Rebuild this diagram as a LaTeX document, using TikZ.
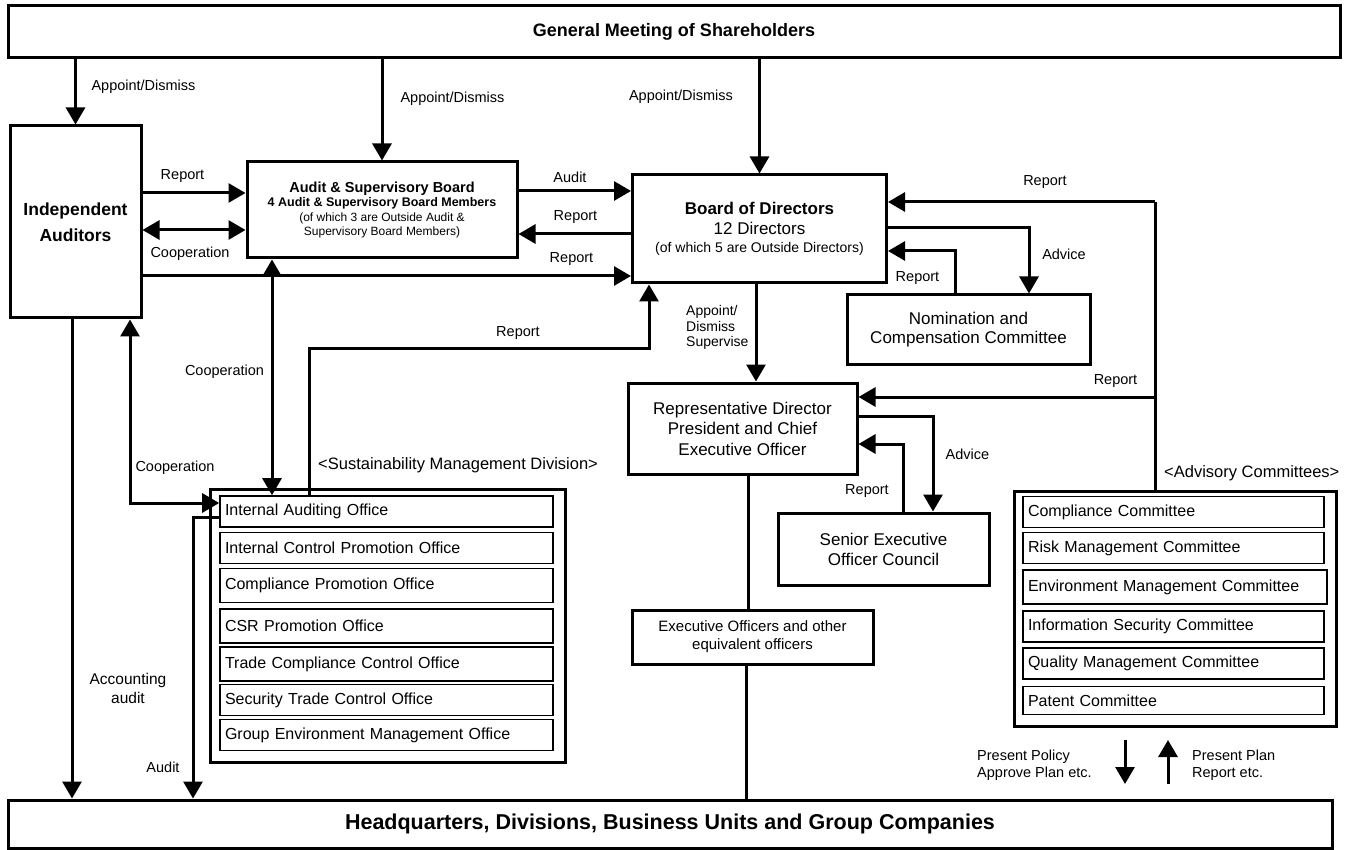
\documentclass[tikz,border=0pt]{standalone}
\usepackage{fontspec}
\setmainfont{Liberation Sans}
\usetikzlibrary{arrows.meta}
\newcommand\myfs[2]{\fontsize{#1}{#2}\selectfont}
\begin{document}
\begin{tikzpicture}[x=1pt,y=-1pt,
  box/.style={draw, line width=3pt, inner sep=0pt, align=center},
  ibox/.style={draw, line width=1.6pt, inner xsep=5pt, inner ysep=0pt, minimum height=31pt, text width=323pt, align=left, font=\myfs{16}{18}},
  abox/.style={ibox, text width=291pt},
  lbl/.style={inner sep=0pt, font=\myfs{14.5}{16}},
  conn/.style={line width=3pt},
  myarr/.style={line width=3pt, -{Triangle[length=17pt,width=19pt]}},
  mydarr/.style={line width=3pt, {Triangle[length=17pt,width=19pt]}-{Triangle[length=17pt,width=19pt]}}
]
\useasboundingbox (0,0) rectangle (1347,850);

% main boxes
\node[box, minimum width=1332pt, minimum height=52pt, font=\myfs{18}{20}\bfseries] (gm) at (674,32) {General Meeting of Shareholders};
\node[box, minimum width=131pt, minimum height=192pt, font=\myfs{17.5}{26}\bfseries] (ia) at (75.5,222) {Independent\\Auditors};
\node[box, minimum width=270pt, minimum height=96pt, font=\myfs{12}{14.5}] (asb) at (382,210)
  {{\myfs{14.5}{16}\bfseries Audit \& Supervisory Board}\\{\myfs{12.5}{14}\bfseries 4 Audit \& Supervisory Board Members}\\(of which 3 are Outside Audit \&\\Supervisory Board Members)};
\node[box, minimum width=254pt, minimum height=108pt, font=\myfs{14}{18.5}] (bod) at (759.5,229)
  {{\myfs{17}{19}\bfseries Board of Directors}\\[1.5pt]{\myfs{17}{19}12 Directors}\\(of which 5 are Outside Directors)};
\node[box, minimum width=243pt, minimum height=69pt, font=\myfs{17}{18.5}] (nom) at (968.5,329.5) {Nomination and\\Compensation Committee};
\node[box, minimum width=229pt, minimum height=91pt, font=\myfs{17}{20.5}] (rep) at (742.5,428.5) {Representative Director\\President and Chief\\Executive Officer};
\node[box, minimum width=211pt, minimum height=72pt, font=\myfs{17}{20}] (sen) at (883.5,549) {Senior Executive\\Officer Council};
\node[box, minimum width=241pt, minimum height=54pt, font=\myfs{15}{18}] (exo) at (752.5,637) {Executive Officers and other\\equivalent officers};
\node[box, minimum width=1324pt, minimum height=48pt, font=\myfs{21.5}{24}\bfseries] (hq) at (670,824) {Headquarters, Divisions, Business Units and Group Companies};

% Sustainability Management Division
\node[box, minimum width=355pt, minimum height=273pt] (smd) at (387.5,625.5) {};
\node[ibox] (iao) at (386.5,511.5) {Internal Auditing Office};
\node[ibox] (icp) at (386.5,548) {Internal Control Promotion Office};
\node[ibox, minimum height=34pt] (cpo) at (386.5,585.5) {Compliance Promotion Office};
\node[ibox, minimum height=34pt] (csr) at (386.5,626) {CSR Promotion Office};
\node[ibox, minimum height=34pt] (tcc) at (386.5,664) {Trade Compliance Control Office};
\node[ibox] (stc) at (386.5,700) {Security Trade Control Office};
\node[ibox] (gem) at (386.5,735) {Group Environment Management Office};
\node[lbl, anchor=west, font=\myfs{16.5}{18}] (smdl) at (318,465) {<Sustainability Management Division>};

% Advisory Committees
\node[box, minimum width=322pt, minimum height=235pt] (adv) at (1175,608.5) {};
\node[abox] (cc) at (1173.5,512) {Compliance Committee};
\node[abox] (rmc) at (1173.5,548) {Risk Management Committee};
\node[abox, minimum height=34pt, text width=294pt] (emc) at (1175,587) {Environment Management Committee};
\node[abox] (isc) at (1173.5,626.5) {Information Security Committee};
\node[abox] (qmc) at (1173.5,663.5) {Quality Management Committee};
\node[abox, minimum height=28pt] (pc) at (1173.5,700.5) {Patent Committee};
\node[lbl, anchor=west, font=\myfs{16.5}{18}] (advl) at (1164,473) {<Advisory Committees>};

% connectors from GM
\draw[myarr] (ia.north |- gm.south) -- (ia.north);
\draw[myarr] (asb.north |- gm.south) -- (asb.north);
\draw[myarr] (bod.north |- gm.south) -- (bod.north);
\node[lbl] (l1) at (143.5,87) {Appoint/Dismiss};
\node[lbl] (l2) at (452.5,99) {Appoint/Dismiss};
\node[lbl] (l3) at (681,97) {Appoint/Dismiss};

% Independent auditors <-> audit board / board
\draw[myarr] (ia.east |- 0,193) -- (asb.west |- 0,193);
\draw[mydarr] (ia.east |- 0,230) -- (asb.west |- 0,230);
\draw[myarr] (ia.east |- 0,276) -- (bod.west |- 0,276);
\node[lbl] (l4) at (182.5,176) {Report};
\node[lbl] (l5) at (190,254) {Cooperation};
\node[lbl] (l6) at (571.5,259) {Report};

% audit board <-> board
\draw[myarr] (asb.east |- 0,191) -- (bod.west |- 0,191);
\draw[myarr] (bod.west |- 0,234) -- (asb.east |- 0,234);
\node[lbl] (l7) at (570,177) {Audit};
\node[lbl] (l8) at (575.5,217) {Report};

% cooperation with internal auditing office
\draw[mydarr] (asb.south -| 272,0) -- (iao.north -| 272,0);
\node[lbl] (l9) at (224.5,372) {Cooperation};
\draw[mydarr] (ia.south -| 130,0) |- (iao.west |- 0,503);
\node[lbl] (l10) at (175,468) {Cooperation};

% audits to HQ
\draw[myarr] (ia.south -| 72,0) -- (hq.north -| 72,0);
\node[lbl, align=center, font=\myfs{15.5}{19}] (l11) at (128,688.5) {Accounting\\audit};
\draw[myarr] (iao.west |- 0,517) -| (hq.north -| 193,0);
\node[lbl] (l12) at (163,767) {Audit};

% internal auditing report to board
\draw[myarr] (iao.north -| 309,0) |- (649,349) -- (bod.south -| 649,0);
\node[lbl] (l13) at (518,333) {Report};

% board -> representative director
\draw[myarr] (bod.south -| 756,0) -- (rep.north -| 756,0);
\node[lbl, anchor=west, align=left, font=\myfs{14}{15.5}] (l14) at (686,327.5) {Appoint/\\Dismiss\\Supervise};
\draw[conn] (rep.south -| 748,0) -- (exo.north -| 748,0);
\draw[conn] (exo.south -| 746,0) -- (hq.north -| 746,0);

% nomination committee
\draw[myarr] (bod.east |- 0,228) -| (nom.north -| 1029,0);
\draw[myarr] (nom.north -| 955,0) |- (bod.east |- 0,251);
\node[lbl] (l15) at (1064,254) {Advice};
\node[lbl] (l16) at (917.5,278) {Report};

% senior executive officer council
\draw[myarr] (rep.east |- 0,416) -| (sen.north -| 933,0);
\draw[myarr] (sen.north -| 903,0) |- (rep.east |- 0,444);
\node[lbl] (l17) at (967.5,454) {Advice};
\node[lbl] (l18) at (867,491) {Report};

% advisory committees reporting
\coordinate (advtop) at (1155,202);
\coordinate (advmid) at (1155,397);
\draw[conn] (advtop) -- (advtop |- adv.north);
\draw[myarr] (advtop) -- (bod.east |- advtop);
\draw[myarr] (advmid) -- (rep.east |- advmid);
\node[lbl] (l19) at (1045,182) {Report};
\node[lbl] (l20) at (1115.5,381) {Report};

% legend arrows
\coordinate (pd1) at (1125,740);
\coordinate (pd2) at (1125,784);
\coordinate (pu1) at (1168,784);
\coordinate (pu2) at (1168,740);
\draw[myarr] (pd1) -- (pd2);
\draw[myarr] (pu1) -- (pu2);
\node[lbl, anchor=west, align=left, font=\myfs{14.5}{16.5}] (l21) at (977,765) {Present Policy\\Approve Plan etc.};
\node[lbl, anchor=west, align=left, font=\myfs{14.5}{16.5}] (l22) at (1192,765) {Present Plan\\Report etc.};
\end{tikzpicture}
\end{document}
